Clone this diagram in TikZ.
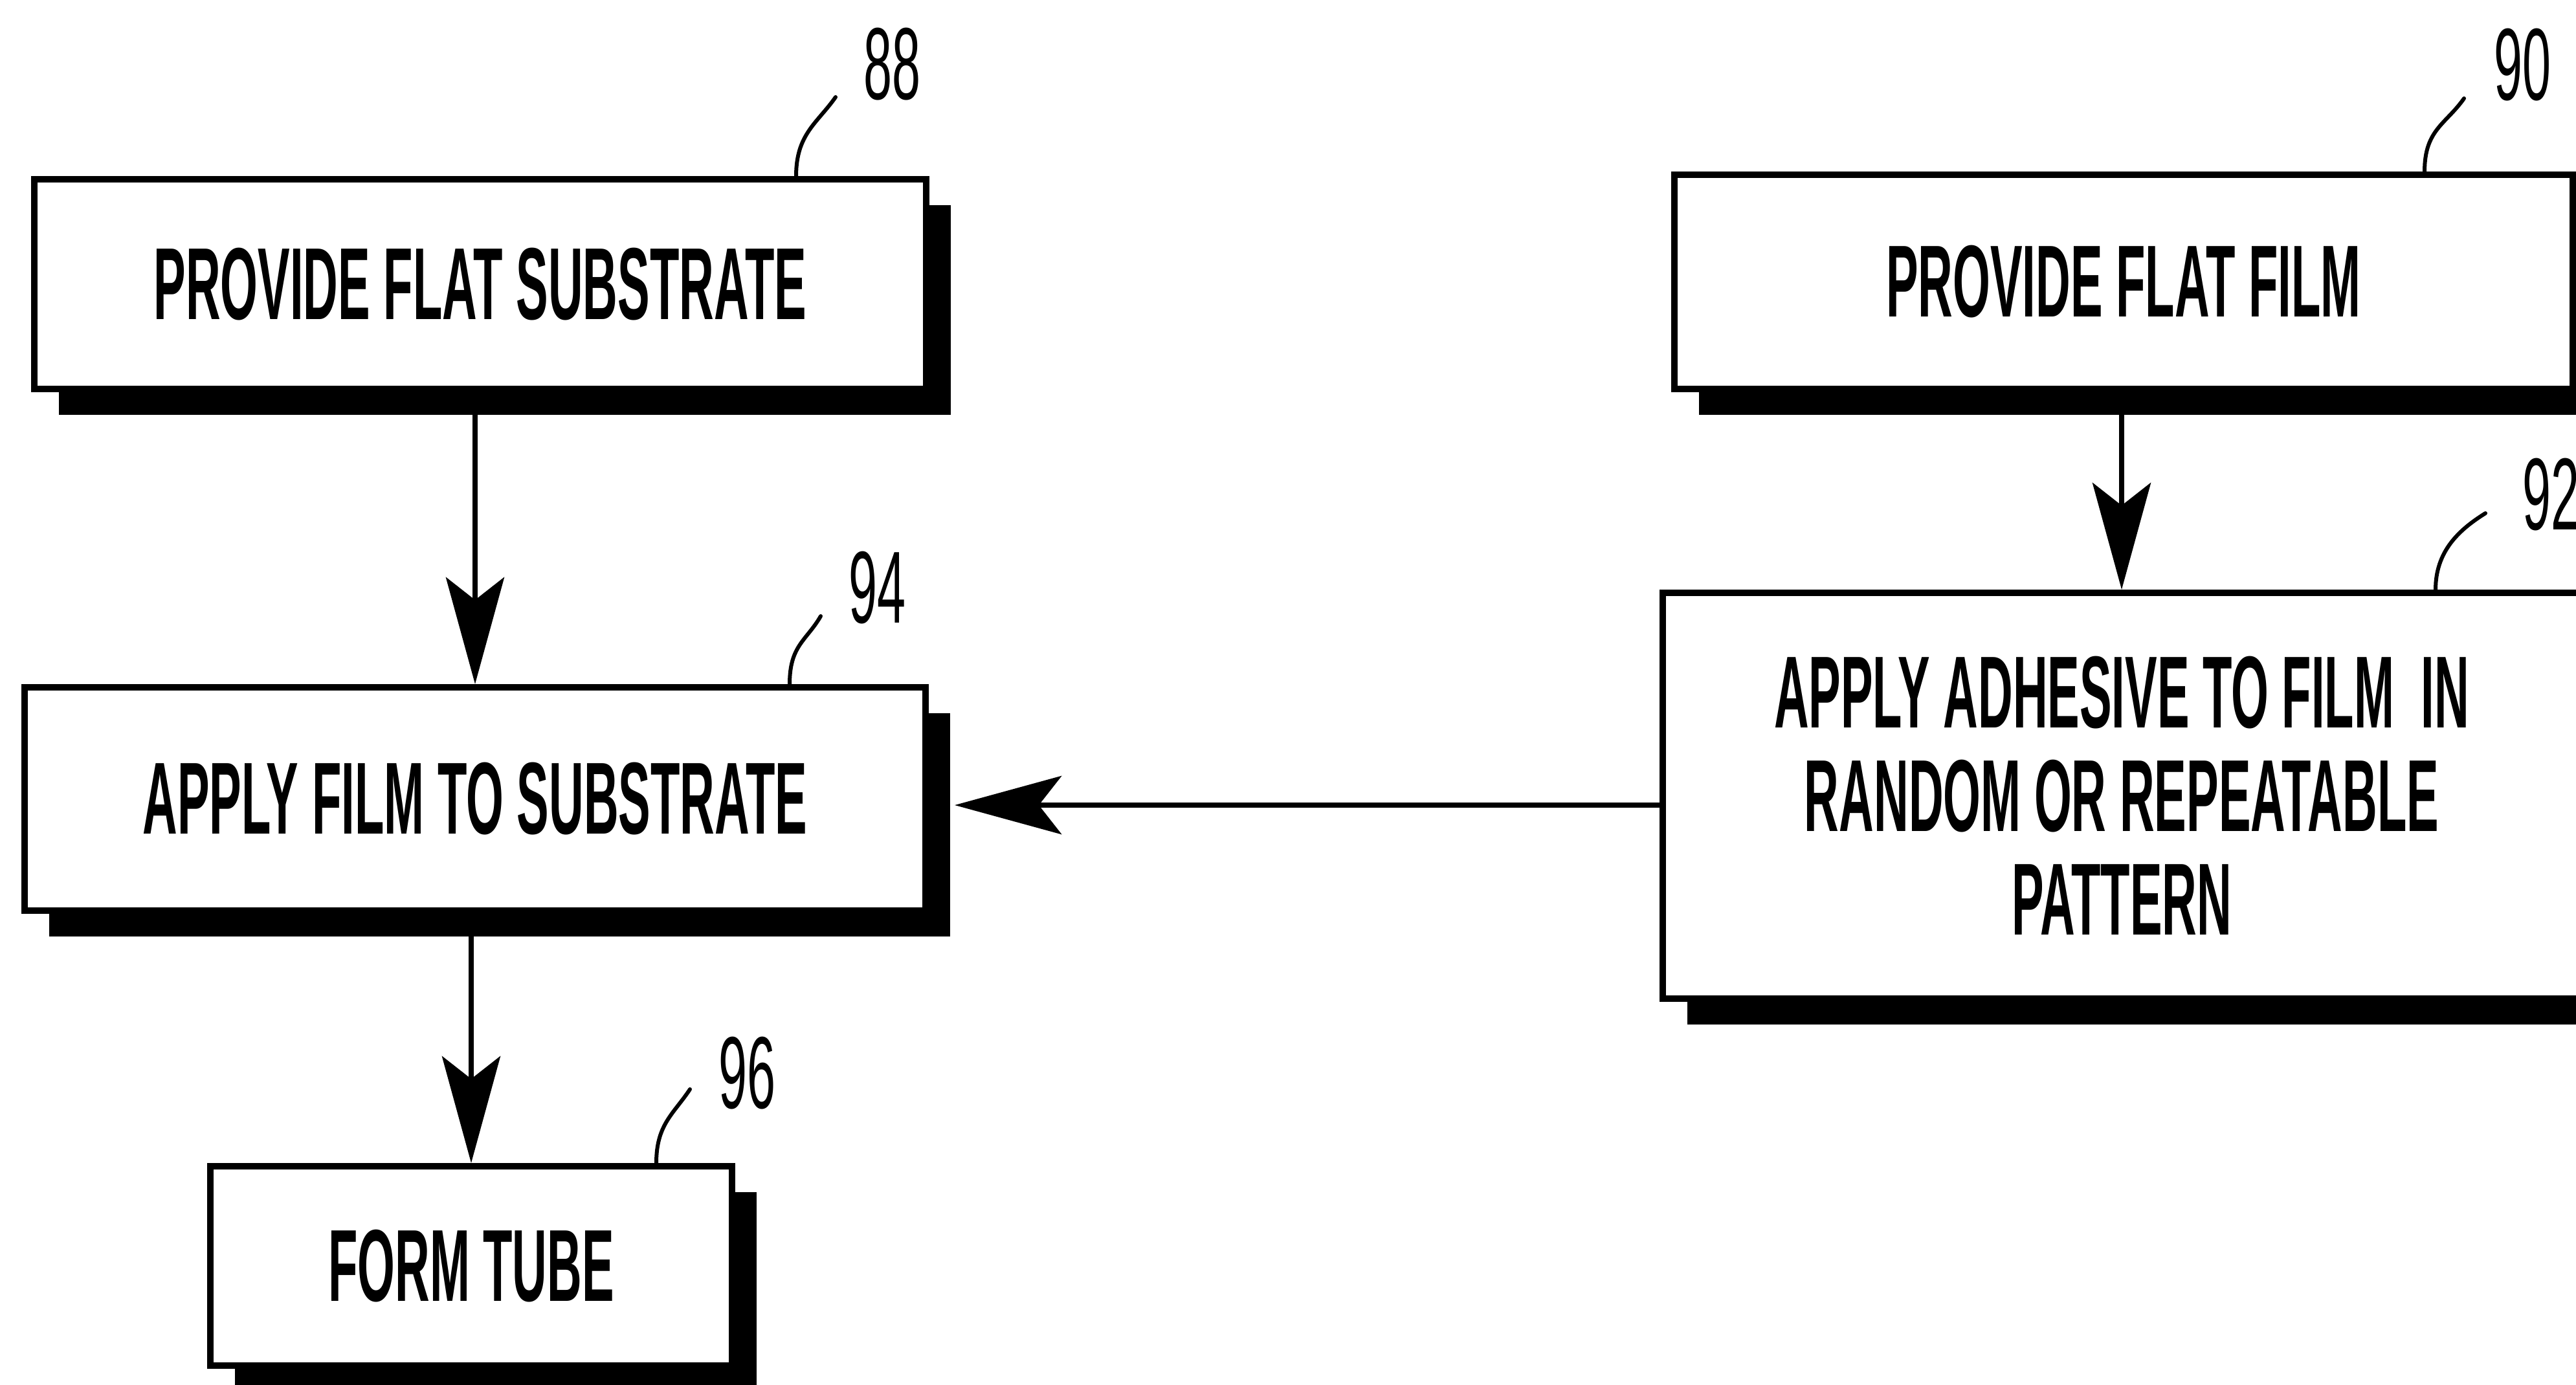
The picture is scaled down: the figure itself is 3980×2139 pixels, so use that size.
\documentclass[tikz,border=0pt]{standalone}
\usepackage{fontspec}
\usetikzlibrary{arrows.meta,shadows}
\newfontfamily\boxfont{Liberation Sans}[UprightFont=* Bold, FakeStretch=0.47]
\newfontfamily\labfont{Liberation Sans}[FakeStretch=0.5]
\begin{document}
\begin{tikzpicture}[x=0.1mm, y=-0.1mm,
  stepbox/.style={draw=black, line width=1mm, fill=white, inner sep=0pt,
    align=center, font=\boxfont\fontsize{45}{45.5}\selectfont,
    drop shadow={shadow xshift=3.8mm, shadow yshift=-4mm, fill=black, opacity=1}},
  reflabel/.style={inner sep=0pt, font=\labfont\fontsize{45}{46}\selectfont},
  arr/.style={line width=0.8mm, -{Stealth[length=16.5mm, width=9mm, inset=3.5mm]}},
  leader/.style={line width=0.6mm, line cap=round}]
\useasboundingbox (0,0) rectangle (3980,2139);

% boxes
\node[stepbox, minimum width=137.8mm, minimum height=32.4mm] (b88) at (742,439) {PROVIDE FLAT SUBSTRATE};
\node[stepbox, minimum width=138.8mm, minimum height=33.1mm] (b90) at (3281,435.5) {PROVIDE FLAT FILM};
\node[stepbox, minimum width=141.8mm, minimum height=62.7mm] (b92) at (3278,1229.5) {APPLY ADHESIVE TO FILM\ \ IN\\RANDOM OR REPEATABLE\\PATTERN};
\node[stepbox, minimum width=139.2mm, minimum height=34.5mm] (b94) at (734,1234.5) {APPLY FILM TO SUBSTRATE};
\node[stepbox, minimum width=80.6mm, minimum height=30.8mm] (b96) at (728,1956) {FORM TUBE};

% reference labels
\node[reflabel] (n88) at (1378,99) {88};
\node[reflabel] (n90) at (3897,100) {90};
\node[reflabel] (n92) at (3941,764) {92};
\node[reflabel] (n94) at (1355,908) {94};
\node[reflabel] (n96) at (1154,1658) {96};

\coordinate (l88) at (1291,150);
\coordinate (l90) at (3807,152);
\coordinate (l92) at (3840,793);
\coordinate (l94) at (1268,952);
\coordinate (l96) at (1066,1683);

% leaders
\draw[leader] ([xshift=48.8mm]b88.north) .. controls +(0,-65) and +(-28,40) .. (l88);
\draw[leader] ([xshift=46.5mm]b90.north) .. controls +(0,-65) and +(-28,40) .. (l90);
\draw[leader] ([xshift=48.5mm]b92.north) .. controls +(0,-60) and +(-40,25) .. (l92);
\draw[leader] ([xshift=48.6mm]b94.north) .. controls +(0,-60) and +(-22,38) .. (l94);
\draw[leader] ([xshift=28.6mm]b96.north) .. controls +(0,-60) and +(-25,38) .. (l96);

% connectors
\path ([xshift=4mm]b94.east) coordinate (b94s);
\draw[arr] (b88.south -| b94.north) -- (b94.north);
\draw[arr] (b90.south -| b92.north) -- (b92.north);
\draw[arr] ([yshift=-1.45mm]b92.west) -- ([yshift=-1.45mm]b92.west -| b94s);
\draw[arr] (b94.south -| b96.north) -- (b96.north);
\end{tikzpicture}
\end{document}
